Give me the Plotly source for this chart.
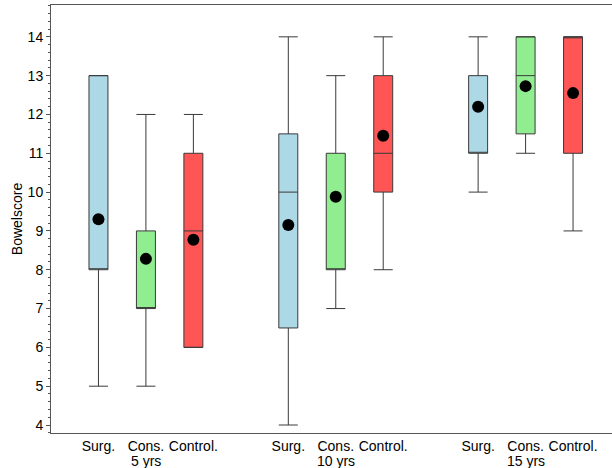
import plotly.graph_objects as go

groups = ["5 yrs", "10 yrs", "15 yrs"]
treatments = ["Surg.", "Cons.", "Control."]
positions = {"Surg.": [1, 5, 9], "Cons.": [2, 6, 10], "Control.": [3, 7, 11]}

lower = {"Surg.": [5, 4, 10], "Cons.": [5, 7, 11], "Control.": [6, 8, 9]}
q1 = {"Surg.": [8, 6.5, 11], "Cons.": [7, 8, 11.5], "Control.": [6, 10, 11]}
median = {"Surg.": [8, 10, 11], "Cons.": [7, 8, 13], "Control.": [9, 11, 14]}
q3 = {"Surg.": [13, 11.5, 13], "Cons.": [9, 11, 14], "Control.": [11, 13, 14]}
upper = {"Surg.": [13, 14, 14], "Cons.": [12, 13, 14], "Control.": [12, 14, 14]}
means = {"Surg.": [9.3, 9.15, 12.2], "Cons.": [8.28, 9.88, 12.73], "Control.": [8.77, 11.45, 12.55]}

colors = {"Surg.": "#ADD8E6", "Cons.": "#90EE90", "Control.": "#FF5555"}

fig = go.Figure()
for t in treatments:
    fig.add_trace(go.Box(
        x=positions[t], q1=q1[t], median=median[t], q3=q3[t],
        lowerfence=lower[t], upperfence=upper[t],
        width=0.4, whiskerwidth=1, fillcolor=colors[t],
        line=dict(color="#3a3a3a", width=1),
        boxpoints=False, hoverinfo="skip", showlegend=False, name=t,
    ))
for t in treatments:
    fig.add_trace(go.Scatter(
        x=positions[t], y=means[t], mode="markers",
        marker=dict(color="black", size=12),
        showlegend=False, hoverinfo="skip",
    ))

tickvals, ticktext = [], []
for i in range(3):
    for t in treatments:
        tickvals.append(positions[t][i])
        ticktext.append(t)

for i, g in enumerate(groups):
    fig.add_annotation(x=positions["Cons."][i], y=0, xref="x", yref="paper",
                       text=g, showarrow=False, yanchor="middle", yshift=-28,
                       font=dict(size=14, color="black"))

fig.update_layout(
    width=616, height=468,
    margin=dict(l=51, r=0, t=5, b=35),
    paper_bgcolor="white", plot_bgcolor="white",
    boxmode="overlay",
    font=dict(family="Liberation Sans, Arial, sans-serif", size=14, color="black"),
)
fig.update_xaxes(
    range=[0, 11.905], tickvals=tickvals, ticktext=ticktext,
    showgrid=False, zeroline=False, showline=True, linecolor="#555",
    linewidth=1, mirror=True, ticks="", tickfont=dict(size=14),
)
fig.update_yaxes(
    range=[3.794, 14.82], tickvals=list(range(4, 15)), showgrid=False,
    zeroline=False, showline=True, linecolor="#555", linewidth=1,
    ticks="outside", ticklen=4, tickcolor="#555", tickfont=dict(size=14),
    minor=dict(dtick=0.2, ticks="outside", ticklen=2, tickcolor="#555", showgrid=False),
    title=dict(text="Bowelscore", font=dict(size=14), standoff=1),
)

fig.write_html("out.html", config={"displayModeBar": False},
               post_script="document.body.style.margin='0';document.body.style.overflow='hidden';")
